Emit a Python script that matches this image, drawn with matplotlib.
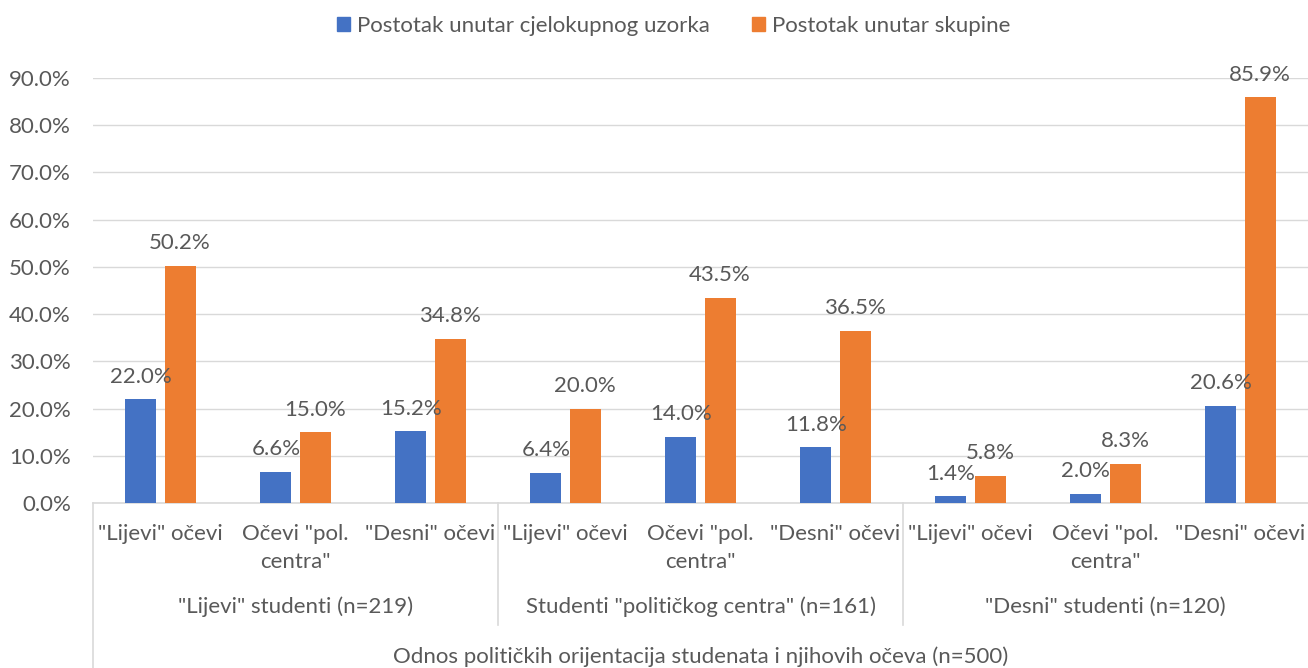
import matplotlib
matplotlib.use("Agg")
import matplotlib.pyplot as plt
import numpy as np
from matplotlib.patches import Patch

plt.rcParams['font.family'] = ['Lato', 'DejaVu Sans']

categories = ['"Lijevi" očevi', 'Očevi "pol.\ncentra"', '"Desni" očevi'] * 3
groups = ['"Lijevi" studenti (n=219)', 'Studenti "političkog centra" (n=161)', '"Desni" studenti (n=120)']
axis_title = 'Odnos političkih orijentacija studenata i njihovih očeva (n=500)'
series_names = ['Postotak unutar cjelokupnog uzorka', 'Postotak unutar skupine']
sample_pct = [22.0, 6.6, 15.2, 6.4, 14.0, 11.8, 1.4, 2.0, 20.6]
group_pct = [50.2, 15.0, 34.8, 20.0, 43.5, 36.5, 5.8, 8.3, 85.9]
yticks = [0, 10, 20, 30, 40, 50, 60, 70, 80, 90]

blue = '#4472C4'
orange = '#ED7D31'
txt = '#595959'
grid = '#D9D9D9'
FS = 16

W, H = 1308, 668
fig = plt.figure(figsize=(W/100, H/100), dpi=100)
ax_left, ax_right, ax_top, ax_bot = 93, 1308, 78, 503
ax = fig.add_axes([ax_left/W, 1-ax_bot/H, (ax_right-ax_left)/W, (ax_bot-ax_top)/H])

x = np.arange(len(categories))
bw = 0.23
off = 0.145
b1 = ax.bar(x-off, sample_pct, bw, color=blue, zorder=3)
b2 = ax.bar(x+off, group_pct, bw, color=orange, zorder=3)
for bars, vals in ((b1, sample_pct), (b2, group_pct)):
    for r, v in zip(bars, vals):
        ax.annotate(f'{v:.1f}%', (r.get_x()+r.get_width()/2, v), xytext=(0, 9),
                    textcoords='offset points', ha='center', va='bottom',
                    fontsize=FS, color=txt, zorder=4)

ax.set_xlim(-0.5, len(categories)-0.5)
ax.set_ylim(0, 90)
ax.set_yticks(yticks)
ax.set_yticklabels([f'{t:.1f}%' for t in yticks], fontsize=FS, color=txt)
ax.tick_params(axis='y', length=0, pad=16)
ax.set_xticks([])
ax.yaxis.grid(True, color=grid, lw=1, zorder=0)
for s in ['top', 'right', 'left']:
    ax.spines[s].set_visible(False)
ax.spines['bottom'].set_color(grid)
ax.spines['bottom'].set_linewidth(1.2)

tr = ax.get_xaxis_transform()
hpx = ax_bot - ax_top
def ay(py):
    return (ax_bot - py) / hpx

for i, c in enumerate(categories):
    ax.text(i, ay(524), c, transform=tr, ha='center', va='top', fontsize=FS,
            color=txt, linespacing=1.5)
for g, name in enumerate(groups):
    ax.text(3*g+1, ay(607), name, transform=tr, ha='center', va='center',
            fontsize=FS, color=txt)
ax.text(4, ay(657), axis_title, transform=tr, ha='center', va='center',
        fontsize=FS, color=txt)

ax.plot([-0.5, -0.5], [0, ay(668)], transform=tr, color=grid, lw=1.2, clip_on=False)
for sx in (2.5, 5.5):
    ax.plot([sx, sx], [0, ay(625)], transform=tr, color=grid, lw=1.2, clip_on=False)

handles = [Patch(color=blue), Patch(color=orange)]
fig.legend(handles, series_names, loc='center', bbox_to_anchor=(0.515, 1-26/H),
           ncol=2, frameon=False, fontsize=FS, labelcolor=txt,
           handlelength=0.6, handleheight=0.6, handletextpad=0.3, columnspacing=1.9)

fig.savefig('out.png', dpi=100)
